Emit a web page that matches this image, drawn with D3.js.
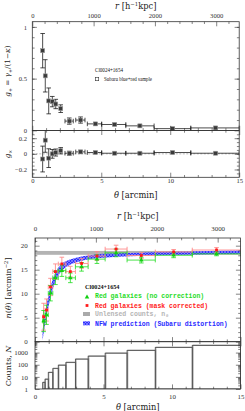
<!DOCTYPE html>
<html><head><meta charset="utf-8">
<script src="https://cdn.jsdelivr.net/npm/d3@7"></script>
<style>body{margin:0;background:#fff}svg{display:block}</style>
</head><body>
<svg id="c" width="245" height="411"></svg>
<script>
// ---------------- data ----------------
const kpcPerArcmin = 225;
const thetaTickVals = [0, 5, 10, 15];
const rTickVals = [0, 1000, 2000, 3000];
const gPlusTickVals = [0, 0.5, 1];
const gCrossTickVals = [-0.2, 0, 0.2];
const nTickVals = [0, 5, 10, 15, 20];
const countTickVals = [1, 10, 100, 1000];

// top figure: tangential / cross shear
const shearTheta   = [0.75, 0.94, 1.19, 1.45, 1.70, 2.06, 2.68, 3.50, 4.57, 5.97, 7.80, 10.17, 13.29];
const shearThetaLo = [null, null, null, null, null, null, 2.37, 3.15, 3.99, 5.03, 6.78, 8.83, 11.49];
const shearThetaHi = [null, null, null, null, null, null, 2.97, 3.82, 5.03, 6.78, 8.83, 11.49, 15.0];
const gPlus     = [0.77, 0.527, 0.285, 0.278, 0.255, 0.21, 0.09, 0.10, 0.063, 0.057, 0.044, 0.017, 0.024];
const gPlusErr  = [0.166, 0.156, 0.125, 0.05, 0.045, 0.037, 0.03, 0.03, 0.012, 0.01, 0.01, 0.01, 0.01];
const gCross    = [-0.066, 0.175, -0.055, 0.0, 0.017, 0.04, 0.008, 0.025, 0.017, 0.008, 0.008, 0.017, 0.008];
const gCrossErr = [0.165, 0.155, 0.12, 0.056, 0.045, 0.04, 0.025, 0.02, 0.012, 0.01, 0.01, 0.01, 0.01];

// bottom figure: number counts
const binEdges = [0.56, 0.73, 0.97, 1.30, 1.70, 2.25, 2.95, 3.88, 5.12, 6.72, 8.78, 11.48, 15.0];
const nTheta = [0.63, 0.84, 1.13, 1.49, 1.96, 2.58, 3.40, 4.52, 5.92, 7.76, 10.12, 13.25];
const nNoCorr    = [4.3, 5.6, 10.1, 13.3, 14.8, 13.3, 15.6, 17.2, 18.5, 17.0, 18.0, 18.3];
const nNoCorrErr = [2.2, 2.0, 1.6, 1.4, 1.2, 1.0, 0.9, 0.9, 0.8, 0.6, 0.5, 0.4];
const nMask      = [5.2, 6.6, 11.4, 14.6, 16.2, 14.6, 16.3, 17.85, 19.3, 17.95, 18.7, 19.1];
const nMaskErr   = [2.8, 2.3, 1.8, 1.6, 1.4, 1.1, 1.0, 0.9, 0.8, 0.6, 0.5, 0.5];
const n0 = 18.5, n0Err = 0.4;
const nfwTheta = [0.55, 0.65, 0.75, 0.85, 1.0, 1.15, 1.3, 1.5, 1.75, 2.0, 2.5, 3.0, 3.5, 4.0, 5.0, 6.0, 8.0, 10.0, 12.0, 15.0];
const nfwN     = [1.3, 3.3, 5.0, 6.6, 8.7, 10.5, 12.0, 13.5, 14.8, 15.6, 16.5, 17.0, 17.35, 17.6, 17.9, 18.05, 18.25, 18.4, 18.5, 18.65];
const nfwErr   = [1.0, 1.1, 1.2, 1.2, 1.2, 1.1, 1.0, 0.9, 0.8, 0.7, 0.55, 0.5, 0.45, 0.4, 0.4, 0.35, 0.35, 0.35, 0.35, 0.35];
const counts    = [3.4, 6.3, 22.6, 48, 90, 150, 285, 500, 880, 1470, 2600, 3800];
const binEdgesAlt = [0.60, 0.77, 1.01, 1.34, 1.74, 2.30, 3.00, 3.93, 5.17, 6.77, 8.83, 11.53, 15.0];
const countsAlt = [3.8, 7.0, 25, 53, 100, 168, 315, 560, 980, 1650, 2900, 4300];

// ---------------- drawing ----------------
const svg = d3.select('#c');
const SERIF = 'DejaVu Serif, serif';
const TSERIF = 'Liberation Serif, serif';
const MONO = 'Liberation Mono, monospace';

const defs = svg.append('defs');
const pat = defs.append('pattern').attr('id', 'hatch').attr('width', 3).attr('height', 3).attr('patternUnits', 'userSpaceOnUse');
pat.append('rect').attr('width', 3).attr('height', 3).attr('fill', '#3030ff');
pat.append('path').attr('d', 'M0,0L3,3M3,0L0,3').attr('stroke', '#a0a0ff').attr('stroke-width', 0.6);

function makeClip(id, x0, x1, y0, y1) {
  defs.append('clipPath').attr('id', id).append('rect')
    .attr('x', x0).attr('y', y0).attr('width', x1 - x0).attr('height', y1 - y0);
  return `url(#${id})`;
}

function axis(g, orient, scale, majors, minors, pos, opt = {}) {
  const gen = {bottom: d3.axisBottom, top: d3.axisTop, left: d3.axisLeft, right: d3.axisRight}[orient];
  const tr = (orient === 'bottom' || orient === 'top') ? `translate(0,${pos})` : `translate(${pos},0)`;
  const a1 = g.append('g').attr('transform', tr)
    .call(gen(scale).tickValues(minors).tickSize(-(opt.minor || 2.3)).tickFormat(''));
  const a2 = g.append('g').attr('transform', tr)
    .call(gen(scale).tickValues(majors).tickSize(-(opt.major || 4.6)).tickPadding(opt.pad || 2)
      .tickFormat(opt.labels ? (opt.fmt || d3.format('')) : ''));
  for (const a of [a1, a2]) {
    a.select('.domain').remove();
    a.selectAll('line').attr('stroke', '#333').attr('stroke-width', 0.6);
    a.attr('font-family', TSERIF).attr('font-size', opt.fs || 6.3);
    a.selectAll('text').attr('fill', '#333');
  }
}

function rtext(g, x, y, parts, fs, anchor = 'middle', rot = false, fill = '#222') {
  const t = g.append('text').attr('font-family', SERIF).attr('font-size', fs).attr('fill', fill)
    .attr('text-anchor', anchor);
  if (rot) t.attr('transform', `translate(${x},${y}) rotate(-90)`).attr('dy', '0.35em');
  else t.attr('x', x).attr('y', y);
  let shift = 0;
  parts.forEach(p => {
    const s = t.append('tspan').text(p.t);
    if (p.i) s.attr('font-style', 'italic');
    const want = p.sup ? -fs * 0.38 : p.sub ? fs * 0.25 : 0;
    if (want !== shift) { s.attr('dy', want - shift); shift = want; }
    if (p.sup || p.sub) s.attr('font-size', fs * 0.65);
  });
  return t;
}

function errBars(g, xs, ys, th, v, e, lo, hi, color, cap, sw) {
  th.forEach((t, i) => {
    const x = xs(t), y = ys(v[i]), ya = ys(v[i] - e[i]), yb = ys(v[i] + e[i]);
    g.append('line').attr('x1', x).attr('x2', x).attr('y1', ya).attr('y2', yb).attr('stroke', color).attr('stroke-width', sw);
    [ya, yb].forEach(yy => g.append('line').attr('x1', x - cap).attr('x2', x + cap).attr('y1', yy).attr('y2', yy)
      .attr('stroke', color).attr('stroke-width', sw));
    if (lo && lo[i] != null) {
      const xa = xs(lo[i]), xb = xs(hi[i]);
      g.append('line').attr('x1', xa).attr('x2', xb).attr('y1', y).attr('y2', y).attr('stroke', color).attr('stroke-width', sw);
      [xa, xb].forEach(xx => g.append('line').attr('x1', xx).attr('x2', xx).attr('y1', y - cap).attr('y2', y + cap)
        .attr('stroke', color).attr('stroke-width', sw));
    }
  });
}

const thetaMinor = d3.range(0, 15.01, 1).filter(d => d % 5 !== 0);
const rMinor = d3.range(0, 3400, 200).filter(d => d % 1000 !== 0);

// ===== TOP FIGURE =====
const T = {x0: 32.3, x1: 239.2, yTop: 21.7, yMid: 130.4, yBot: 177.3};
const xT = d3.scaleLinear([0, 15], [T.x0, T.x1]);
const rT = d3.scaleLinear([0, 15 * kpcPerArcmin], [T.x0, T.x1]);
const yGp = d3.scaleLinear([0, 1.05], [T.yMid, T.yTop]);
const yGx = d3.scaleLinear([-0.3, 0.3], [T.yBot, T.yMid]);
const topG = svg.append('g');

const gpG = topG.append('g').attr('clip-path', makeClip('cgp', T.x0, T.x1, T.yTop, T.yMid));
errBars(gpG, xT, yGp, shearTheta, gPlus, gPlusErr, shearThetaLo, shearThetaHi, '#111', 2.3, 0.75);
gpG.selectAll('rect.pt').data(shearTheta).join('rect')
  .attr('x', (d) => xT(d) - 2).attr('y', (d, i) => yGp(gPlus[i]) - 2).attr('width', 4).attr('height', 4)
  .attr('fill', '#3a3a3a').attr('stroke', '#999').attr('stroke-width', 0.6);

const gxG = topG.append('g').attr('clip-path', makeClip('cgx', T.x0, T.x1, T.yMid, T.yBot));
gxG.append('line').attr('x1', T.x0).attr('x2', T.x1).attr('y1', yGx(0)).attr('y2', yGx(0))
  .attr('stroke', '#888').attr('stroke-width', 0.6).attr('stroke-dasharray', '2,1.5');
errBars(gxG, xT, yGx, shearTheta, gCross, gCrossErr, shearThetaLo, shearThetaHi, '#111', 2.3, 0.75);
gxG.selectAll('rect.pt').data(shearTheta).join('rect')
  .attr('x', (d) => xT(d) - 2).attr('y', (d, i) => yGx(gCross[i]) - 2).attr('width', 4).attr('height', 4)
  .attr('fill', '#3a3a3a').attr('stroke', '#999').attr('stroke-width', 0.6);

[[T.yTop, T.yMid], [T.yMid, T.yBot]].forEach(([a, b]) =>
  topG.append('rect').attr('x', T.x0).attr('y', a).attr('width', T.x1 - T.x0).attr('height', b - a)
    .attr('fill', 'none').attr('stroke', '#333').attr('stroke-width', 0.8));

axis(topG, 'top', rT, rTickVals, rMinor, T.yTop, {labels: true, pad: 3.6, fs: 6.6});
axis(topG, 'bottom', xT, thetaTickVals, thetaMinor, T.yMid, {});
axis(topG, 'top', xT, thetaTickVals, thetaMinor, T.yMid, {});
axis(topG, 'bottom', xT, thetaTickVals, thetaMinor, T.yBot, {labels: true, pad: 1.5, fs: 6.6});
axis(topG, 'left', yGp, gPlusTickVals, d3.range(0.1, 1.05, 0.1), T.x0, {labels: true, pad: 5.3, fs: 6.6});
axis(topG, 'right', yGp, gPlusTickVals, d3.range(0.1, 1.05, 0.1), T.x1, {});
axis(topG, 'left', yGx, gCrossTickVals, d3.range(-0.25, 0.3, 0.05), T.x0, {labels: true, pad: 5.3, fs: 6.6});
axis(topG, 'right', yGx, gCrossTickVals, d3.range(-0.25, 0.3, 0.05), T.x1, {});

rtext(topG, (T.x0 + T.x1) / 2, 9, [{t: 'r', i: 1}, {t: ' [h', i: 0}, {t: '−1', sup: 1}, {t: 'kpc]'}], 8.3);
rtext(topG, (T.x0 + T.x1) / 2, 198, [{t: 'θ', i: 1}, {t: ' [arcmin]'}], 8.3);
rtext(topG, 7.5, 71, [{t: 'g', i: 1}, {t: '+', sub: 1}, {t: ' = '}, {t: 'γ', i: 1}, {t: '+', sub: 1},
  {t: '/(1−'}, {t: 'κ', i: 1}, {t: ')'}], 7.3, 'middle', true);
rtext(topG, 7.5, 154, [{t: 'g', i: 1}, {t: '×', sub: 1}], 7.3, 'middle', true);

topG.append('text').attr('x', 95).attr('y', 72).attr('font-family', TSERIF).attr('font-size', 5.6)
  .attr('fill', '#111').attr('textLength', 28).attr('lengthAdjust', 'spacingAndGlyphs').text('Cl0024+1654');
topG.append('rect').attr('x', 95.3).attr('y', 77.3).attr('width', 3.4).attr('height', 3.4)
  .attr('fill', 'none').attr('stroke', '#333').attr('stroke-width', 0.6);
topG.append('text').attr('x', 104).attr('y', 81).attr('font-family', TSERIF).attr('font-size', 5.6)
  .attr('fill', '#111').attr('textLength', 48).attr('lengthAdjust', 'spacingAndGlyphs').text('Subaru blue+red sample');

// ===== BOTTOM FIGURE =====
const B = {x0: 35, x1: 240.5, yTop: 238, yMid: 341.7, yBot: 389};
const xB = d3.scaleLinear([0, 15], [B.x0, B.x1]);
const rB = d3.scaleLinear([0, 15 * kpcPerArcmin], [B.x0, B.x1]);
const yN = d3.scaleLinear([0, 21.6], [B.yMid, B.yTop]);
const yC = d3.scaleLog([1, 7900], [B.yBot, B.yMid]);
const botG = svg.append('g');

const nG = botG.append('g').attr('clip-path', makeClip('cn', B.x0, B.x1, B.yTop, B.yMid));
nG.append('rect').attr('x', xB(0)).attr('width', xB(15) - xB(0))
  .attr('y', yN(n0 + n0Err)).attr('height', yN(n0 - n0Err) - yN(n0 + n0Err)).attr('fill', '#b3b3b3');
const nfwArea = d3.area().x(d => xB(d[0])).y0(d => yN(d[1] - d[2])).y1(d => yN(d[1] + d[2])).curve(d3.curveMonotoneX);
nG.append('path').datum(nfwTheta.map((t, i) => [t, nfwN[i], nfwErr[i]])).attr('d', nfwArea)
  .attr('fill', 'url(#hatch)');

const lo = binEdges.slice(0, -1), hi = binEdges.slice(1);
errBars(nG, xB, yN, nTheta, nMask, nMaskErr, lo, hi, '#ff8a8a', 2.3, 0.9);
errBars(nG, xB, yN, nTheta, nNoCorr, nNoCorrErr, lo, hi, '#1fdc1f', 2.3, 0.8);
const tri = d3.symbol().type(d3.symbolTriangle).size(9);
nG.selectAll('path.g').data(nTheta).join('path')
  .attr('transform', (d, i) => `translate(${xB(d)},${yN(nNoCorr[i])})`).attr('d', tri).attr('fill', '#12d012');
nG.selectAll('rect.r').data(nTheta).join('rect')
  .attr('x', d => xB(d) - 1.4).attr('y', (d, i) => yN(nMask[i]) - 1.4).attr('width', 2.8).attr('height', 2.8)
  .attr('fill', '#ff1a1a');

const cG = botG.append('g').attr('clip-path', makeClip('cc', B.x0, B.x1, B.yMid, B.yBot));
countsAlt.forEach((c, i) => cG.append('rect').attr('x', xB(binEdgesAlt[i])).attr('y', yC(c))
  .attr('width', xB(binEdgesAlt[i + 1]) - xB(binEdgesAlt[i])).attr('height', yC(1) - yC(c))
  .attr('fill', 'none').attr('stroke', '#b0b0b0').attr('stroke-width', 0.9));
counts.forEach((c, i) => cG.append('rect').attr('x', xB(binEdges[i])).attr('y', yC(c))
  .attr('width', xB(binEdges[i + 1]) - xB(binEdges[i])).attr('height', yC(1) - yC(c))
  .attr('fill', 'none').attr('stroke', '#555').attr('stroke-width', 0.9));

[[B.yTop, B.yMid], [B.yMid, B.yBot]].forEach(([a, b]) =>
  botG.append('rect').attr('x', B.x0).attr('y', a).attr('width', B.x1 - B.x0).attr('height', b - a)
    .attr('fill', 'none').attr('stroke', '#333').attr('stroke-width', 0.8));

const countMinor = [];
[1, 10, 100, 1000].forEach(dec => d3.range(2, 10).forEach(k => { if (dec * k < 7900) countMinor.push(dec * k); }));
axis(botG, 'top', rB, rTickVals, rMinor, B.yTop, {labels: true, pad: 7.2, fs: 6.9});
axis(botG, 'bottom', xB, thetaTickVals, thetaMinor, B.yMid, {});
axis(botG, 'top', xB, thetaTickVals, thetaMinor, B.yMid, {});
axis(botG, 'bottom', xB, thetaTickVals, thetaMinor, B.yBot, {labels: true, pad: 5.3, fs: 6.9});
axis(botG, 'left', yN, nTickVals, d3.range(1, 21.6, 1).filter(d => d % 5), B.x0, {labels: true, pad: 7.3, fs: 6.9});
axis(botG, 'right', yN, nTickVals, d3.range(1, 21.6, 1).filter(d => d % 5), B.x1, {});
axis(botG, 'left', yC, countTickVals, countMinor, B.x0, {labels: true, pad: 7, fs: 6.9, fmt: d3.format('d')});
axis(botG, 'right', yC, countTickVals, countMinor, B.x1, {});

rtext(botG, (B.x0 + B.x1) / 2, 218.7, [{t: 'r', i: 1}, {t: ' [h', i: 0}, {t: '−1', sup: 1}, {t: 'kpc]'}], 8.3);
rtext(botG, (B.x0 + B.x1) / 2, 409.6, [{t: 'θ', i: 1}, {t: ' [arcmin]'}], 8.3);
rtext(botG, 8, 288, [{t: 'n', i: 1}, {t: '('}, {t: 'θ', i: 1}, {t: ') [arcmin'}, {t: '−2', sup: 1}, {t: ']'}], 8, 'middle', true);
rtext(botG, 8, 366, [{t: 'Counts, '}, {t: 'N', i: 1}], 8, 'middle', true);

const L = botG.append('g');
L.append('text').attr('x', 85).attr('y', 289.3).attr('font-family', TSERIF).attr('font-weight', 'bold')
  .attr('font-size', 6.2).attr('fill', '#111').text('Cl0024+1654');
L.append('path').attr('transform', 'translate(87,297.2)').attr('d', tri).attr('fill', '#12d012');
L.append('text').attr('x', 95).attr('y', 298.3).attr('font-family', MONO).attr('font-weight', 'bold')
  .attr('font-size', 6.5).attr('fill', '#1fdc1f').text('Red galaxies (no correction)');
L.append('rect').attr('x', 85.6).attr('y', 304.1).attr('width', 2.8).attr('height', 2.8).attr('fill', '#ff1a1a');
L.append('text').attr('x', 95).attr('y', 307.5).attr('font-family', MONO).attr('font-weight', 'bold')
  .attr('font-size', 6.5).attr('fill', '#ff2020').text('Red galaxies (mask corrected)');
L.append('rect').attr('x', 83).attr('y', 312).attr('width', 7).attr('height', 4).attr('fill', '#aaa');
L.append('text').attr('x', 95).attr('y', 316.4).attr('font-family', MONO).attr('font-weight', 'bold')
  .attr('font-size', 6.5).attr('fill', '#b4b4b4').text('Unlensed counts, n₀');
L.append('rect').attr('x', 83).attr('y', 321.3).attr('width', 7).attr('height', 4).attr('fill', 'url(#hatch)');
L.append('text').attr('x', 95).attr('y', 325.7).attr('font-family', MONO).attr('font-weight', 'bold')
  .attr('font-size', 6.5).attr('fill', '#2a2aff').text('NFW prediction (Subaru distortion)');
</script></body></html>
